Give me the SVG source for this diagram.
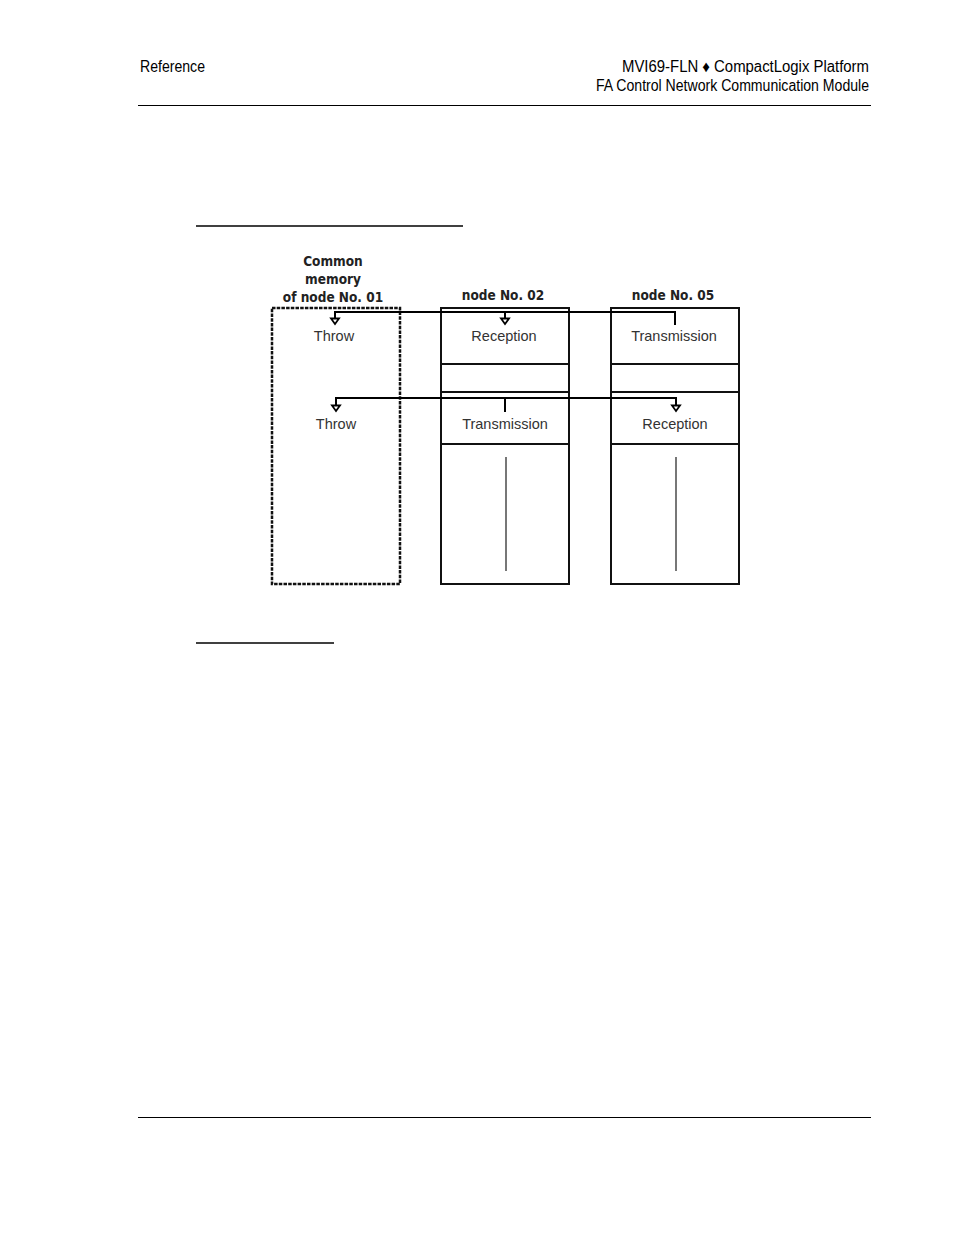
<svg xmlns="http://www.w3.org/2000/svg" width="954" height="1235" viewBox="0 0 954 1235">
<style>
.hdr{font-family:"Liberation Sans Narrow","Liberation Sans",Arial,sans-serif;font-size:16px;fill:#000}
.lbl{font-family:"Liberation Sans",Arial,sans-serif;font-size:14.5px;fill:#333;text-anchor:middle}
.ttl{font-family:"DejaVu Sans Condensed","Liberation Sans",sans-serif;font-weight:bold;font-size:13.5px;fill:#222;text-anchor:middle}
.box{fill:none;stroke:#111;stroke-width:2}
.dash{fill:none;stroke:#111;stroke-width:2.5;stroke-dasharray:3.5,1.2}
.wire{fill:none;stroke:#000;stroke-width:2}
.arr{fill:#fff;stroke:#000;stroke-width:1.8}
.gray{stroke:#777;stroke-width:2}
.rule{stroke:#000;stroke-width:1.2}
</style>
<rect width="954" height="1235" fill="#fff"/>
<g id="header">
<text class="hdr" x="140" y="72" textLength="65" lengthAdjust="spacingAndGlyphs">Reference</text>
<text class="hdr" x="869" y="72" text-anchor="end" textLength="247" lengthAdjust="spacingAndGlyphs">MVI69-FLN ♦ CompactLogix Platform</text>
<text class="hdr" x="869" y="91" text-anchor="end" textLength="273" lengthAdjust="spacingAndGlyphs">FA Control Network Communication Module</text>
<line class="rule" x1="138" y1="105.5" x2="871" y2="105.5"/>
<line class="rule" x1="138" y1="1117.5" x2="871" y2="1117.5"/>
</g>
<g id="underlines">
<line x1="196" y1="226" x2="463" y2="226" stroke="#000" stroke-width="1.5"/>
<line x1="196" y1="643" x2="334" y2="643" stroke="#000" stroke-width="1.5"/>
</g>
<g id="node01">
<text class="ttl" x="333" y="266">Common</text>
<text class="ttl" x="333" y="284">memory</text>
<text class="ttl" x="333" y="302">of node No. 01</text>
<rect class="dash" x="272" y="308" width="128" height="276"/>
<text class="lbl" x="334" y="341">Throw</text>
<text class="lbl" x="336" y="429">Throw</text>
</g>
<g id="node02">
<text class="ttl" x="503" y="300">node No. 02</text>
<rect class="box" x="441" y="308" width="128" height="276"/>
<line class="box" x1="441" y1="364" x2="569" y2="364"/>
<line class="box" x1="441" y1="392" x2="569" y2="392"/>
<line class="box" x1="441" y1="444" x2="569" y2="444"/>
<text class="lbl" x="504" y="341">Reception</text>
<text class="lbl" x="505" y="429">Transmission</text>
<line class="gray" x1="506" y1="457" x2="506" y2="571"/>
</g>
<g id="node05">
<text class="ttl" x="673" y="300">node No. 05</text>
<rect class="box" x="611" y="308" width="128" height="276"/>
<line class="box" x1="611" y1="364" x2="739" y2="364"/>
<line class="box" x1="611" y1="392" x2="739" y2="392"/>
<line class="box" x1="611" y1="444" x2="739" y2="444"/>
<text class="lbl" x="674" y="341">Transmission</text>
<text class="lbl" x="675" y="429">Reception</text>
<line class="gray" x1="676" y1="457" x2="676" y2="571"/>
</g>
<g id="connectors">
<polyline class="wire" points="675,325 675,312 335,312 335,318"/>
<line class="wire" x1="505" y1="312" x2="505" y2="318"/>
<polygon class="arr" points="331,318.5 339,318.5 335,324"/>
<polygon class="arr" points="501,318.5 509,318.5 505,324"/>
<polyline class="wire" points="336,405 336,398 676,398 676,405"/>
<line class="wire" x1="505" y1="398" x2="505" y2="412"/>
<polygon class="arr" points="332,405.5 340,405.5 336,411"/>
<polygon class="arr" points="672,405.5 680,405.5 676,411"/>
</g>
</svg>
